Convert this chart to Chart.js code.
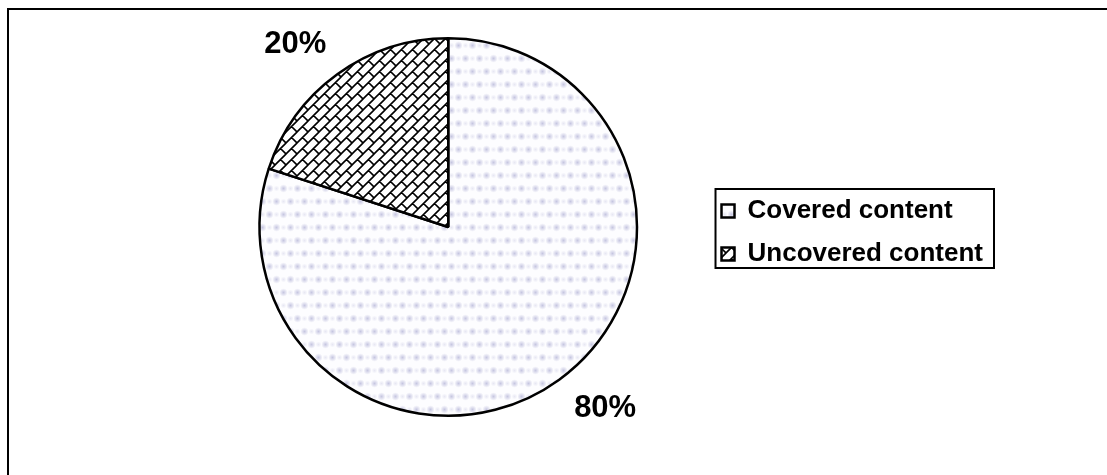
<!DOCTYPE html>
<html>
<head>
<meta charset="utf-8">
<script src="https://cdn.jsdelivr.net/npm/chart.js@4"></script>
<style>
    html, body { margin: 0; padding: 0; background: #fff; }
    #coverageChart { display: block; }
</style>
</head>
<body>
<canvas id="coverageChart" width="1107" height="475"></canvas>
<script>
const labels = ['Covered content', 'Uncovered content'];
const shares = [80, 20];

const FONT = "'Liberation Sans', Arial, sans-serif";

// soft lavender dots on white
function dotPattern(ctx) {
    const tile = document.createElement('canvas');
    tile.width = 14;
    tile.height = 26;
    const t = tile.getContext('2d');
    t.fillStyle = '#fdfdff';
    t.fillRect(0, 0, 14, 26);
    [[3.5, 6.5], [10.5, 19.5], [10.5, 6.5], [3.5, 19.5]].forEach(([x, y], i) => {
        const rad = i < 2 ? 4.2 : 3;
        const a = i < 2 ? 0.75 : 0.3;
        const g = t.createRadialGradient(x, y, 0, x, y, rad);
        g.addColorStop(0, 'rgba(180, 180, 215, ' + a + ')');
        g.addColorStop(1, 'rgba(180, 180, 215, 0)');
        t.fillStyle = g;
        t.fillRect(x - 5, y - 5, 10, 10);
    });
    return ctx.createPattern(tile, 'repeat');
}

// diagonal brick hatch
function brickPattern(ctx) {
    const s = 11;
    const tile = document.createElement('canvas');
    tile.width = s;
    tile.height = s;
    const t = tile.getContext('2d');
    t.fillStyle = '#fff';
    t.fillRect(0, 0, s, s);
    t.strokeStyle = '#000';
    t.lineWidth = 1.6;
    t.beginPath();
    t.moveTo(-1, s + 1); t.lineTo(s + 1, -1);
    t.moveTo(-1, 1); t.lineTo(1, -1);
    t.moveTo(s - 1, s + 1); t.lineTo(s + 1, s - 1);
    t.moveTo(s / 2, s / 2); t.lineTo(s, s);
    t.moveTo(-s / 2, s / 2); t.lineTo(0, s);
    t.stroke();
    return ctx.createPattern(tile, 'repeat');
}

const framePlugin = {
    id: 'frame',
    beforeDraw(chart) {
        const c = chart.ctx;
        c.save();
        c.fillStyle = '#fff';
        c.fillRect(0, 0, chart.width, chart.height);
        c.fillStyle = '#000';
        c.fillRect(7, 8, chart.width - 7, 2);
        c.fillRect(7, 8, 2, chart.height - 8);
        c.restore();
    }
};

const legendBoxPlugin = {
    id: 'legendBox',
    afterDraw(chart) {
        const boxes = chart.legend.legendHitBoxes;
        if (!boxes || !boxes.length) return;
        const left = Math.min(...boxes.map(b => b.left)) - 6;
        const right = Math.max(...boxes.map(b => b.left + b.width)) + 11;
        const top = boxes[0].top - 9;
        const bottom = boxes[boxes.length - 1].top + boxes[boxes.length - 1].height + 1;
        const c = chart.ctx;
        c.save();
        c.strokeStyle = '#000';
        c.lineWidth = 2;
        c.strokeRect(left, top, right - left, bottom - top);
        c.restore();
    }
};

// percentage labels just outside each slice
const percentPlugin = {
    id: 'percentLabels',
    afterDatasetsDraw(chart) {
        const c = chart.ctx;
        const meta = chart.getDatasetMeta(0);
        const data = chart.data.datasets[0].data;
        const total = data.reduce((a, b) => a + b, 0);
        const size = 31;
        c.save();
        c.font = 'bold ' + size + 'px ' + FONT;
        c.fillStyle = '#000';
        c.textBaseline = 'alphabetic';
        c.textAlign = 'center';
        meta.data.forEach((arc, i) => {
            const p = arc.getProps(['x', 'y', 'startAngle', 'endAngle', 'outerRadius'], true);
            const mid = (p.startAngle + p.endAngle) / 2;
            const r = p.outerRadius + 22;
            const ax = p.x + Math.cos(mid) * r;
            const ay = p.y + Math.sin(mid) * r;
            const text = Math.round(data[i] / total * 100) + '%';
            const w = c.measureText(text).width;
            const capH = size * 0.716;
            const cx = ax + Math.sign(Math.cos(mid)) * w / 2;
            const cy = ay + Math.sign(Math.sin(mid)) * capH / 2;
            c.fillText(text, cx + 2, cy + capH / 2 - 3);
        });
        c.restore();
    }
};

const ctx = document.getElementById('coverageChart').getContext('2d');

new Chart(ctx, {
    type: 'pie',
    data: {
        labels: labels,
        datasets: [{
            data: shares,
            backgroundColor: [dotPattern(ctx), brickPattern(ctx)],
            borderColor: '#000',
            borderWidth: 2.5,
            hoverOffset: 0
        }]
    },
    options: {
        responsive: false,
        animation: false,
        events: [],
        layout: {
            padding: { left: 192, right: 114, top: 37, bottom: 58 }
        },
        plugins: {
            tooltip: { enabled: false },
            legend: {
                position: 'right',
                align: 'center',
                title: {
                    display: true,
                    text: '',
                    padding: 0,
                    font: { size: 10, lineHeight: 1.1 }
                },
                labels: {
                    boxWidth: 13,
                    boxHeight: 13,
                    padding: 17,
                    color: '#000',
                    font: { family: FONT, size: 26, weight: 'bold' }
                }
            }
        }
    },
    plugins: [framePlugin, legendBoxPlugin, percentPlugin]
});
</script>
</body>
</html>
